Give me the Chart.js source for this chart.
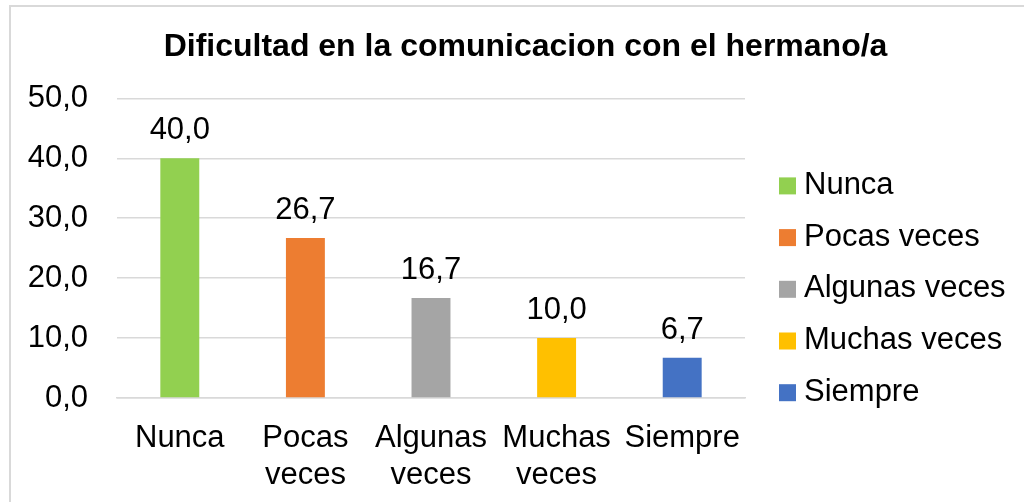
<!DOCTYPE html>
<html>
<head>
<meta charset="utf-8">
<script src="https://cdn.jsdelivr.net/npm/chart.js@4/dist/chart.umd.min.js"></script>
<style>
  html, body { margin: 0; padding: 0; background: #fff; }
  #wrap { position: absolute; left: 9px; top: 5px; width: 1015px; height: 497px;
          border-left: 2px solid #d9d9d9; border-top: 2px solid #d9d9d9; box-sizing: border-box; }
  canvas { display: block; }
</style>
</head>
<body>
<div id="wrap"><canvas id="c"></canvas></div>
<script>
const categories = [["Nunca"], ["Pocas", "veces"], ["Algunas", "veces"], ["Muchas", "veces"], ["Siempre"]];
const legendNames = ["Nunca", "Pocas veces", "Algunas veces", "Muchas veces", "Siempre"];
const values = [40.0, 26.7, 16.7, 10.0, 6.7];
const colors = ["#92d050", "#ed7d31", "#a5a5a5", "#ffc000", "#4472c4"];
const yTicks = [0, 10, 20, 30, 40, 50];

const fmt = v => v.toFixed(1).replace('.', ',');
const FONT = "'Liberation Sans', Arial, sans-serif";

const dataLabels = {
  id: 'dataLabels',
  afterDatasetsDraw(chart) {
    const ctx = chart.ctx;
    const meta = chart.getDatasetMeta(0);
    ctx.save();
    ctx.font = "31px " + FONT;
    ctx.fillStyle = "#000";
    ctx.textAlign = "center";
    ctx.textBaseline = "alphabetic";
    meta.data.forEach((bar, i) => {
      ctx.fillText(fmt(values[i]), bar.x, bar.y - 19);
    });
    ctx.restore();
  }
};

const sideLegend = {
  id: 'sideLegend',
  afterDraw(chart) {
    const ctx = chart.ctx;
    const a = chart.chartArea;
    ctx.save();
    ctx.font = "31px " + FONT;
    ctx.textAlign = "left";
    ctx.textBaseline = "middle";
    legendNames.forEach((n, i) => {
      const cy = a.top + 87 + i * 51.7;
      ctx.fillStyle = colors[i];
      ctx.fillRect(a.right + 34, cy - 8, 17, 17);
      ctx.fillStyle = "#000";
      ctx.fillText(n, a.right + 59, cy);
    });
    ctx.restore();
  }
};

new Chart(document.getElementById('c'), {
  type: 'bar',
  data: {
    labels: categories,
    datasets: [{
      data: values,
      backgroundColor: colors,
      borderWidth: 0,
      barPercentage: 0.31,
      categoryPercentage: 1.0
    }]
  },
  options: {
    responsive: true,
    maintainAspectRatio: false,
    animation: false,
    layout: { padding: { left: 16, right: 0, top: 0, bottom: 9 } },
    plugins: {
      title: {
        display: true,
        text: "Dificultad en la comunicacion con el hermano/a",
        font: { family: FONT, size: 32, weight: 'bold' },
        color: "#000",
        padding: { top: 21, bottom: 32 }
      },
      legend: { display: false },
      tooltip: { enabled: false }
    },
    scales: {
      x: {
        grid: { display: false },
        border: { color: "#d9d9d9", width: 1.5 },
        afterFit: s => { s.height = 95; },
        ticks: { font: { family: FONT, size: 31, lineHeight: 1.19 }, color: "#000", padding: 14, maxRotation: 0, autoSkip: false }
      },
      y: {
        min: 0, max: 50,
        afterBuildTicks: axis => { axis.ticks = yTicks.map(v => ({ value: v })); },
        afterFit: s => { s.width = 90; },
        grid: { color: "#d9d9d9", lineWidth: 1.5, drawTicks: false },
        border: { display: false },
        ticks: { font: { family: FONT, size: 31 }, color: "#000", padding: 29, callback: v => fmt(v) }
      },
      legendSpace: {
        type: 'linear',
        position: 'right',
        display: true,
        afterFit: s => { s.width = 279; },
        grid: { display: false, drawTicks: false },
        border: { display: false },
        ticks: { display: false }
      }
    }
  },
  plugins: [dataLabels, sideLegend]
});
</script>
</body>
</html>
